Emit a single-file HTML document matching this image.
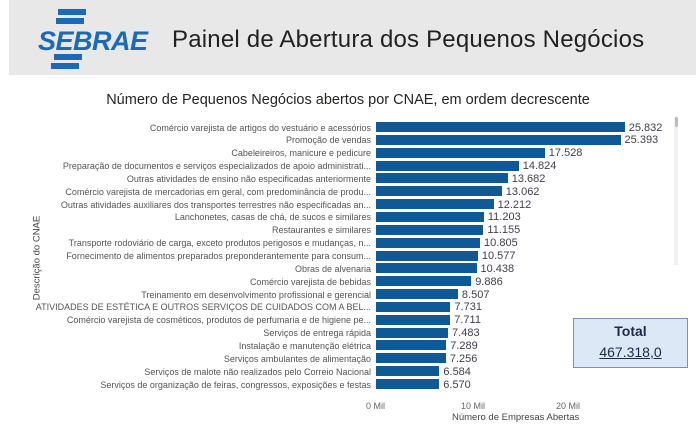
<!DOCTYPE html>
<html><head><meta charset="utf-8"><style>
body{margin:0;width:696px;height:427px;background:#fff;font-family:"Liberation Sans",sans-serif;position:relative;overflow:hidden}
.hdr{position:absolute;left:9px;top:0;width:687px;height:75px;background:#e8e8e8}
.ttl{position:absolute;left:172px;top:26px;font-size:24px;color:#222;letter-spacing:0.2px}
.ct{position:absolute;left:0;width:696px;top:92px;text-align:center;font-size:14.5px;color:#252423}
.lab{position:absolute;right:325px;font-size:9px;color:#555;white-space:nowrap;line-height:10px}
.bar{position:absolute;left:376px;height:10px;background:#0f5a96}
.val{position:absolute;font-size:11px;color:#404050;line-height:10px}
.ax{position:absolute;top:401px;font-size:9px;color:#666}
</style></head><body>
<div class="hdr"></div>
<svg style="position:absolute;left:36px;top:8px" width="116" height="62">
<rect x="22" y="1" width="28" height="6" fill="#1d6ab4"/>
<rect x="20" y="10" width="28" height="6" fill="#1d6ab4"/>
<rect x="18" y="46" width="28" height="6" fill="#1d6ab4"/>
<rect x="15" y="55" width="28" height="6" fill="#1d6ab4"/>
<text x="2" y="42" font-family="Liberation Sans" font-weight="bold" font-style="italic" font-size="27" fill="#1d6ab4" textLength="110">SEBRAE</text>
</svg>
<div class="ttl">Painel de Abertura dos Pequenos Negócios</div>
<div class="ct">Número de Pequenos Negócios abertos por CNAE, em ordem decrescente</div>
<div style="position:absolute;left:31px;top:258px;transform:translate(-50%,-50%) rotate(-90deg);font-size:9.5px;color:#444;white-space:nowrap;margin-left:6px">Descrição do CNAE</div>
<div id="rows"></div>
<div style="position:absolute;left:674px;top:117px;width:4px;height:148px;background:#f0f0f0"></div>
<div style="position:absolute;left:675px;top:117px;width:3px;height:10px;background:#bbb;border-radius:2px"></div>
<div class="ax" style="left:366px">0 Mil</div>
<div class="ax" style="left:461px">10 Mil</div>
<div class="ax" style="left:556px">20 Mil</div>
<div style="position:absolute;left:452px;top:412px;font-size:9.5px;color:#444">Número de Empresas Abertas</div>
<div style="position:absolute;left:573px;top:318px;width:113px;height:48px;background:#dde8f6;border:1px solid #7d8fb5;text-align:center">
<div style="font-weight:bold;font-size:14px;color:#1b2a4a;margin-top:4px">Total</div>
<div style="font-size:14px;color:#1b2a4a;text-decoration:underline;margin-top:5px">467.318,0</div></div>
<script>
var d=[["Comércio varejista de artigos do vestuário e acessórios",25832],["Promoção de vendas",25393],["Cabeleireiros, manicure e pedicure",17528],["Preparação de documentos e serviços especializados de apoio administrati...",14824],["Outras atividades de ensino não especificadas anteriormente",13682],["Comércio varejista de mercadorias em geral, com predominância de produ...",13062],["Outras atividades auxiliares dos transportes terrestres não especificadas an...",12212],["Lanchonetes, casas de chá, de sucos e similares",11203],["Restaurantes e similares",11155],["Transporte rodoviário de carga, exceto produtos perigosos e mudanças, n...",10805],["Fornecimento de alimentos preparados preponderantemente para consum...",10577],["Obras de alvenaria",10438],["Comércio varejista de bebidas",9886],["Treinamento em desenvolvimento profissional e gerencial",8507],["ATIVIDADES DE ESTÉTICA E OUTROS SERVIÇOS DE CUIDADOS COM A BEL...",7731],["Comércio varejista de cosméticos, produtos de perfumaria e de higiene pe...",7711],["Serviços de entrega rápida",7483],["Instalação e manutenção elétrica",7289],["Serviços ambulantes de alimentação",7256],["Serviços de malote não realizados pelo Correio Nacional",6584],["Serviços de organização de feiras, congressos, exposições e festas",6570]];
var h="";d.forEach(function(r,i){var y=122+i*12.85;var w=r[1]*0.00963;
h+='<div class="lab" style="top:'+(y+0.5)+'px">'+r[0]+'</div><div class="bar" style="top:'+y+'px;width:'+w+'px"></div><div class="val" style="top:'+(y+0.5)+'px;left:'+(376+w+4)+'px">'+r[1].toLocaleString("de-DE")+'</div>';});
document.getElementById("rows").innerHTML=h;
</script>
</body></html>
